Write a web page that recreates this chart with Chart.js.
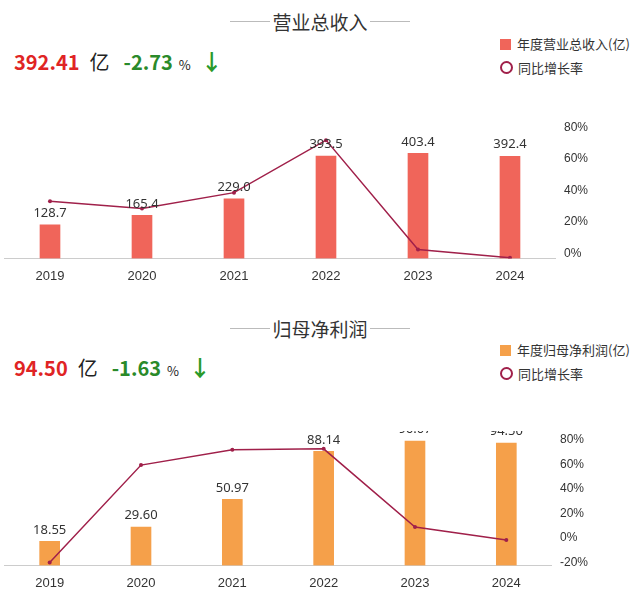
<!DOCTYPE html>
<html>
<head>
<meta charset="utf-8">
<script src="https://cdn.jsdelivr.net/npm/chart.js@4"></script>
<style>
  body { margin: 0; width: 640px; height: 610px; background: #fff; font-family: "Noto Sans CJK SC", "Noto Sans", sans-serif; position: relative; overflow: hidden; }
  .title { position: absolute; left: 230px; width: 180px; text-align: center; font-size: 19px; color: #333; }
  .title:before, .title:after { content: ''; position: absolute; top: 13px; width: 40px; border-top: 1px solid #bbb; }
  .title:before { left: 0; } .title:after { right: 0; }
  .head { position: absolute; left: 14px; font-size: 20px; font-weight: bold; }
  .head .r { color: #e02424; } .head .g { color: #2a8a2a; }
  .head .u { font-weight: normal; color: #222; margin: 0 14px 0 10px; }
  .head .p { font-weight: normal; font-size: 13px; color: #222; margin-left: 6px; }
  .head .a { color: #2a9a2a; margin-left: 10px; font-size: 22px; }
  .leg { position: absolute; left: 500px; font-size: 13px; color: #333; }
  .leg div { height: 24px; line-height: 24px; }
  .sq { display: inline-block; width: 11px; height: 11px; margin-right: 6px; vertical-align: -1px; }
  .ci { display: inline-block; width: 9px; height: 9px; border: 2px solid #a0204a; border-radius: 50%; margin-right: 5px; vertical-align: -1px; }
  .box { position: absolute; left: 0; width: 588px; }
</style>
</head>
<body>
<div class="title" style="top:8px">营业总收入</div>
<div class="head" style="top:44px"><span class="r">392.41</span><span class="u">亿</span><span class="g">-2.73</span><span class="p">%</span><span class="a">↓</span></div>
<div class="leg" style="top:32px"><div><span class="sq" style="background:#f0655a"></span>年度营业总收入(亿)</div><div><span class="ci"></span>同比增长率</div></div>
<div class="box" style="top:120px;height:166px"><canvas id="c1"></canvas></div>

<div class="title" style="top:315px">归母净利润</div>
<div class="head" style="top:350px"><span class="r">94.50</span><span class="u">亿</span><span class="g">-1.63</span><span class="p">%</span><span class="a">↓</span></div>
<div class="leg" style="top:338px"><div><span class="sq" style="background:#f5a04a"></span>年度归母净利润(亿)</div><div><span class="ci"></span>同比增长率</div></div>
<div class="box" style="top:431px;height:162px"><canvas id="c2"></canvas></div>

<script>
'use strict';

// ******* DATA *******
let years = ['2019', '2020', '2021', '2022', '2023', '2024'];
let revenue = [128.7, 165.4, 229.0, 393.5, 403.4, 392.4];
let revenueLabels = ['128.7', '165.4', '229.0', '393.5', '403.4', '392.4'];
let revenueGrowth = [33.0, 28.5, 38.5, 71.8, 2.5, -2.73];
let profit = [18.55, 29.60, 50.97, 88.14, 96.07, 94.50];
let profitLabels = ['18.55', '29.60', '50.97', '88.14', '96.07', '94.50'];
let profitGrowth = [-20.0, 59.6, 72.2, 72.9, 9.0, -1.63];

// ******* PLUGIN: value labels over bars *******
let barLabels = {
  id: 'barLabels',
  afterDatasetsDraw(chart) {
    let ctx = chart.ctx;
    let meta = chart.getDatasetMeta(1);
    let texts = chart.options.plugins.barLabels.texts;
    ctx.save();
    ctx.font = '13px "Noto Sans", sans-serif';
    ctx.fillStyle = '#333';
    ctx.textAlign = 'center';
    ctx.textBaseline = 'bottom';
    meta.data.forEach(function (bar, i) {
      ctx.fillText(texts[i], bar.x, bar.y - 5);
    });
    ctx.restore();
  }
};

function makeChart(id, values, texts, growth, color, yMax, gMin, gMax, gTicks) {
  return new Chart(document.getElementById(id), {
    data: {
      labels: years,
      datasets: [
        { type: 'line', data: growth, yAxisID: 'g', borderColor: '#a0204a', borderWidth: 1.5,
          pointRadius: 2, pointBackgroundColor: '#a0204a', pointBorderWidth: 0 },
        { type: 'bar', data: values, yAxisID: 'y', backgroundColor: color, barThickness: 20 }
      ]
    },
    options: {
      responsive: true, maintainAspectRatio: false, animation: false,
      layout: { padding: 0 },
      plugins: { legend: { display: false }, tooltip: { enabled: false }, barLabels: { texts: texts } },
      scales: {
        x: { grid: { display: false }, border: { color: '#ccc' },
             ticks: { color: '#333', font: { size: 13 }, padding: 2 } },
        y: { display: false, min: 0, max: yMax },
        g: { position: 'right', min: gMin, max: gMax, grid: { display: false }, border: { display: false },
             afterBuildTicks: function (ax) { ax.ticks = gTicks.map(function (v) { return { value: v }; }); },
             ticks: { color: '#333', font: { size: 12 }, padding: 0, callback: function (v) { return v + '%'; } } }
      }
    },
    plugins: [barLabels]
  });
}

makeChart('c1', revenue, revenueLabels, revenueGrowth, '#f0655a', 504, -3.2, 80, [0, 20, 40, 60, 80]);
makeChart('c2', profit, profitLabels, profitGrowth, '#f5a04a', 98.3, -22.4, 81.6, [-20, 0, 20, 40, 60, 80]);
</script>
</body>
</html>
